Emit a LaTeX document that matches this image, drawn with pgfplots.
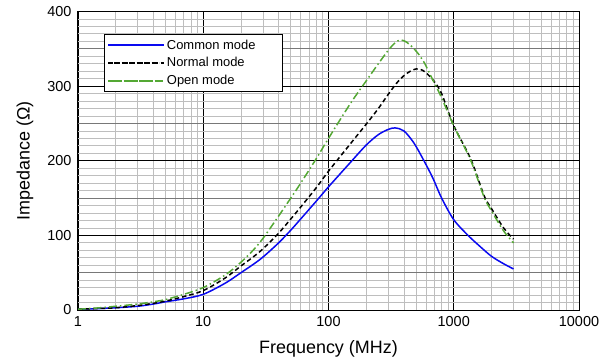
\documentclass[border=0pt]{standalone}
\usepackage{fontspec}
\setmainfont{Liberation Sans}
\usepackage{pgfplots}
\pgfplotsset{compat=1.18}

\definecolor{cmblue}{RGB}{10,10,240}
\definecolor{omgreen}{RGB}{84,168,52}
\definecolor{minorgray}{RGB}{190,190,190}
\definecolor{midgray}{RGB}{120,120,120}

\begin{document}
\begin{tikzpicture}
\begin{axis}[
  xmode=log,
  scale only axis,
  width=501bp, height=298.5bp,
  xmin=1, xmax=10000,
  ymin=0, ymax=400,
  xtick={1,10,100,1000,10000},
  xticklabels={1,10,100,1000,10000},
  minor xtick={2,3,4,5,6,7,8,9,20,30,40,50,60,70,80,90,200,300,400,500,600,700,800,900,2000,3000,4000,5000,6000,7000,8000,9000},
  ytick={0,100,200,300,400},
  minor ytick={10,20,...,390},
  extra y ticks={50,150,250,350},
  extra y tick labels={},
  extra y tick style={major grid style={draw=midgray, line width=0.9bp}},
  major tick length=0pt, minor tick length=0pt,
  grid=both,
  major grid style={draw=black, line width=0.8bp},
  minor grid style={draw=minorgray, line width=0.8bp},
  axis line style={draw=black, line width=1bp},
  /pgf/number format/assume math mode=true,
  tick label style={font=\fontsize{14.5}{17}\selectfont},
  xticklabel style={yshift=-3bp},
  yticklabel style={xshift=-3bp},
  xlabel={Frequency (MHz)},
  ylabel={Impedance (Ω)},
  label style={font=\fontsize{18}{21}\selectfont},
  x label style={at={(axis description cs:0.5,0)}, anchor=center, yshift=-39bp},
  y label style={at={(axis description cs:0,0.5)}, anchor=center, yshift=53bp},
  legend cell align=left,
  legend style={
    at={(rel axis cs:0.052,0.924)}, anchor=north west,
    font=\fontsize{13}{15}\selectfont,
    draw=black, line width=0.8bp, fill=white,
    inner xsep=3bp, inner ysep=3bp,
    nodes={inner ysep=2.2bp},
    row sep=2.5bp,
  },
  legend image code/.code={
    \path (0bp,0bp) -- (56bp,0bp);
    \draw[#1] (6bp,0bp) -- (51bp,0bp);},
]

% Common mode
\addplot[cmblue, line width=1.5bp, smooth] coordinates {
  (1,1) (1.5,2) (2,3) (3,5) (4,8) (5,11) (7,15) (10,21) (15,36) (20,50)
  (25,61) (30,71) (40,90) (50,107) (60,122) (80,146) (100,165) (150,198)
  (200,221) (250,235) (300,242) (340,244) (400,240) (480,224) (570,202)
  (680,177) (800,150) (1000,121) (1300,100) (1600,86) (2000,72) (2500,62)
  (3000,55)
};
\addlegendentry{Common mode\rule{22bp}{0pt}}

% Normal mode
\addplot[black, line width=1.5bp, dash pattern=on 4.5bp off 3bp, smooth] coordinates {
  (1,1) (1.5,2) (2,3) (3,6) (4,9) (5,12) (7,18) (10,26) (15,43) (20,59)
  (25,71) (30,82) (40,103) (50,122) (60,138) (80,164) (100,186) (150,223)
  (200,249) (250,270) (300,289) (350,304) (400,314) (450,320) (500,323)
  (550,322) (600,318) (700,306) (800,290) (1000,247) (1370,202) (1750,153)
  (2000,136) (2500,110) (3000,95)
};
\addlegendentry{Normal mode}

% Open mode
\addplot[omgreen, line width=1.5bp, dash pattern=on 8bp off 3bp on 1.5bp off 3bp, smooth] coordinates {
  (1,1) (1.5,3) (2,5) (3,8) (4,11) (5,14) (7,21) (10,30) (15,47) (20,64)
  (25,80) (30,96) (40,126) (50,150) (60,170) (80,203) (100,230) (150,277)
  (200,307) (250,330) (300,348) (340,358) (377,362) (420,359) (450,355)
  (512,345) (579,332) (655,314) (787,287) (1000,247) (1370,200) (1750,151)
  (2000,133) (2500,106) (3000,90)
};
\addlegendentry{Open mode}

\coordinate (bl) at (rel axis cs:0,0);
\coordinate (tr) at (rel axis cs:1,1);
\end{axis}
\path ([shift={(-78bp,-53bp)}]bl) rectangle ([shift={(31bp,11.5bp)}]tr);
\end{tikzpicture}
\end{document}
